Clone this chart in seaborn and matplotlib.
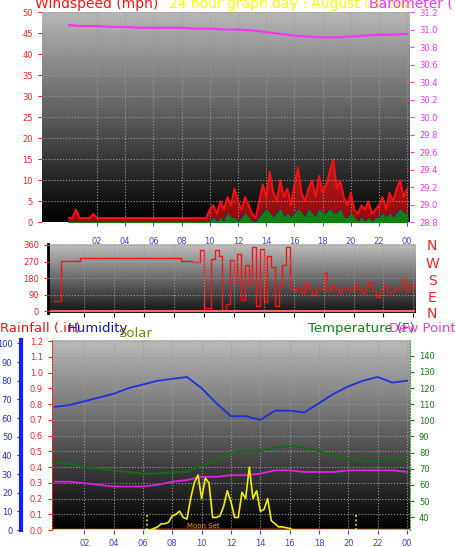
import matplotlib

matplotlib.use("Agg")

import matplotlib.pyplot as plt
import numpy as np
import pandas as pd
import seaborn as sns

# ---- data ----
HOUR_TICKS = [2, 4, 6, 8, 10, 12, 14, 16, 18, 20, 22, 24]
HOUR_LABELS = ["02", "04", "06", "08", "10", "12", "14", "16", "18", "20", "22", "00"]

# 15-minute samples
wind_gust = [1, 1, 3, 1, 1, 1, 1, 2, 1, 1, 1, 1, 1, 1, 1, 1, 1, 1, 1, 1,
             1, 1, 1, 1, 1, 1, 1, 1, 1, 1, 1, 1, 1, 1, 1, 1, 1, 1, 1, 1,
             3, 4, 2, 5, 3, 6, 4, 8, 5, 3, 6, 4, 2, 1, 5, 9, 6, 12, 7, 5,
             10, 6, 8, 4, 9, 13, 7, 5, 8, 10, 6, 11, 7, 9, 12, 15, 8, 10, 6, 4,
             7, 3, 2, 4, 3, 5, 2, 3, 4, 6, 3, 7, 5, 8, 10, 6, 8]
wind_avg = [0] * 40 + [0, 1, 0, 1, 0, 2, 1, 1, 0, 1, 2, 1, 0, 0, 1, 2, 3, 2, 1, 2,
                       3, 1, 2, 1, 2, 3, 2, 1, 3, 2, 1, 3, 2, 2, 3, 2, 2, 3, 1, 1,
                       2, 1, 0, 1, 0, 1, 0, 1, 1, 2, 1, 2, 1, 2, 3, 2, 2]
wind_dir = [55, 55, 275, 275, 275, 275, 275, 290, 290, 290, 290, 290, 290, 290, 290, 290,
            290, 290, 290, 290, 290, 290, 290, 290, 290, 290, 290, 290, 290, 290, 290, 290,
            290, 290, 275, 275, 275, 270, 270, 330, 20, 20, 285, 330, 300, 10, 40, 280,
            160, 310, 60, 250, 150, 350, 30, 340, 50, 300, 240, 30, 140, 250, 350, 120,
            110, 130, 100, 150, 120, 90, 130, 120, 210, 110, 140, 120, 100, 130, 120, 110,
            150, 120, 100, 130, 160, 110, 80, 120, 140, 100, 110, 130, 120, 180, 110, 150, 120]
solar = [0] * 27 + [10, 20, 40, 40, 50, 90, 100, 120, 80, 70, 200, 300, 350, 200, 330, 300,
                    80, 80, 90, 150, 250, 180, 80, 80, 240, 200, 400, 200, 250, 120, 130, 200,
                    60, 40, 20, 20, 15, 10, 0, 0, 0, 0, 0, 0, 0, 0, 0, 0, 0, 0, 0, 0, 0, 0, 0, 0]

# hourly samples
barometer = [31.05, 31.04, 31.04, 31.03, 31.03, 31.02, 31.02, 31.02, 31.02, 31.01, 31.01,
             31.0, 31.0, 30.99, 30.97, 30.95, 30.93, 30.92, 30.91, 30.91, 30.92, 30.93,
             30.94, 30.94, 30.95]
temperature = [74, 73, 71, 70, 69, 68, 67, 67, 68, 68, 72, 75, 80, 81, 81, 83, 84, 83,
               81, 78, 76, 75, 75, 76, 75]
dew_point = [62, 62, 61, 60, 59, 59, 59, 60, 62, 63, 65, 65, 66, 66, 67, 69, 69, 68,
             68, 68, 69, 69, 69, 69, 68]
humidity = [66, 67, 69, 71, 73, 76, 78, 80, 81, 82, 76, 68, 61, 61, 59, 64, 64, 63,
            68, 73, 77, 80, 82, 79, 80]


def series(values, step):
    return pd.DataFrame({"t": np.arange(len(values)) * step, "v": values})


def gradient_bg(ax, top, bottom):
    grad = np.linspace(top, bottom, 256).reshape(-1, 1)
    ax.imshow(grad, extent=(0, 1, 0, 1), transform=ax.transAxes, aspect="auto",
              cmap="gray", vmin=0, vmax=1, zorder=0)
    ax.grid(True, color="#9a9a9a", linestyle=":", linewidth=0.8)
    ax.set_axisbelow(False)


def style_ax(ax):
    for s in ax.spines.values():
        s.set_visible(False)
    ax.tick_params(labelsize=6, length=3)
    ax.set_xlabel("")
    ax.set_ylabel("")


fig = plt.figure(figsize=(4.56, 5.47), dpi=100)
gust = series(wind_gust, 0.25)
avg = series(wind_avg, 0.25)
wdir = series(wind_dir, 0.25)
sol = series(solar, 0.25)

# ---- top panel ----
ax1 = fig.add_axes([0.092, 0.594, 0.807, 0.384])
gradient_bg(ax1, 0.72, 0.0)
sns.lineplot(data=gust, x="t", y="v", ax=ax1, color="#ff1010", lw=1.2, zorder=3)
ax1.fill_between(gust["t"], gust["v"], color="#ff1010", alpha=0.6, zorder=2)
sns.lineplot(data=avg, x="t", y="v", ax=ax1, color="#1010d0", lw=1, zorder=3)
ax1.fill_between(avg["t"], avg["v"], color="#108010", zorder=4)
ax1.set_xlim(-1.9, 24.2)
ax1.set_ylim(0, 50)
ax1.set_yticks(range(0, 51, 5))
ax1.tick_params(axis="y", colors="#ff2020")
ax1.set_xticks(HOUR_TICKS, HOUR_LABELS)
ax1.tick_params(axis="x", colors="#4040ff", pad=8)
style_ax(ax1)
ax1b = ax1.twinx()
sns.lineplot(data=series(barometer, 1), x="t", y="v", ax=ax1b, color="#ff30ff", lw=1.5)
ax1b.set_ylim(28.8, 31.2)
ax1b.set_yticks(np.round(np.arange(28.8, 31.21, 0.2), 1))
ax1b.tick_params(axis="y", colors="#ff30ff")
style_ax(ax1b)

# ---- middle panel ----
ax2 = fig.add_axes([0.105, 0.428, 0.805, 0.126])
gradient_bg(ax2, 0.75, 0.08)
sns.lineplot(data=wdir, x="t", y="v", ax=ax2, color="#ff1010", lw=1, drawstyle="steps-post")
ax2.axhline(0, color="#ff6060", lw=1.5)
ax2.set_xlim(-0.4, 24.1)
ax2.set_ylim(-8, 365)
ax2.set_yticks([0, 90, 180, 270, 360])
ax2.set_xticks(HOUR_TICKS, [])
ax2.tick_params(axis="y", colors="#ff2020")
style_ax(ax2)
ax2.spines["left"].set_visible(True)
ax2.spines["left"].set_color("black")
ax2.spines["left"].set_linewidth(2)
for y, letter in zip([0.55, 0.518, 0.487, 0.456, 0.426], "NWSEN"):
    fig.text(0.948, y, letter, color="#ff2020", fontsize=10, ha="center", va="center")

# ---- bottom panel ----
ax3 = fig.add_axes([0.114, 0.031, 0.785, 0.348])
gradient_bg(ax3, 0.73, 0.0)
ax3.set_xlim(-0.2, 24.2)
ax3.set_ylim(0, 1.21)
ax3.set_yticks(np.round(np.arange(0, 1.21, 0.1), 1))
ax3.tick_params(axis="y", colors="#ff2020")
ax3.set_xticks(HOUR_TICKS, HOUR_LABELS)
ax3.tick_params(axis="x", colors="#4040ff")
style_ax(ax3)
ax3.spines["left"].set_visible(True)
ax3.spines["left"].set_color("#ff2020")
ax3.spines["left"].set_linestyle(":")
ax3.axhline(0.003, color="#ff9900", lw=2.5, zorder=5)
ax3.axhline(0.003, xmin=0.3, xmax=0.75, color="#ff1010", lw=2.5, zorder=5)
for xv in [6.3, 20.5]:
    ax3.plot([xv, xv], [0, 0.1], color="#ffff00", ls=":", lw=1.2, zorder=5)
ax3.text(9.0, 0.005, "Moon Set", color="#ff9900", fontsize=5, va="bottom", zorder=6)

ax3t = ax3.twinx()
sns.lineplot(data=series(temperature, 1), x="t", y="v", ax=ax3t, color="#107010", lw=1.3)
sns.lineplot(data=series(dew_point, 1), x="t", y="v", ax=ax3t, color="#e020e0", lw=1.3)
ax3t.set_ylim(32, 150)
ax3t.set_yticks(range(40, 141, 10))
ax3t.tick_params(axis="y", colors="#108010")
style_ax(ax3t)
ax3t.spines["right"].set_visible(True)
ax3t.spines["right"].set_color("#30a030")
ax3t.spines["right"].set_linestyle(":")

ax3h = ax3.twinx()
sns.lineplot(data=series(humidity, 1), x="t", y="v", ax=ax3h, color="#2030e0", lw=1.3)
ax3h.set_ylim(0, 102)
ax3h.yaxis.set_ticks_position("left")
ax3h.spines["left"].set_position(("outward", 22))
ax3h.set_yticks(range(0, 101, 10))
ax3h.tick_params(axis="y", colors="#2030e0")
style_ax(ax3h)
ax3h.spines["left"].set_visible(True)
ax3h.spines["left"].set_color("#1020ff")
ax3h.spines["left"].set_linewidth(3)

ax3s = ax3.twinx()
sns.lineplot(data=sol, x="t", y="v", ax=ax3s, color="#f0f000", lw=1.2)
ax3s.set_ylim(0, 1210)
ax3s.set_yticks([])
style_ax(ax3s)

# ---- header texts ----
fig.text(0.076, 0.993, "Windspeed (mph)", color="#ff1010", fontsize=10, va="center")
fig.text(0.37, 0.993, "24 hour graph day : August 01 202", color="#ffff00", fontsize=10, va="center")
fig.text(0.81, 0.993, "Barometer ( in)", color="#ff30ff", fontsize=10, va="center")
fig.text(0.0, 0.4, "Rainfall (.in)", color="#ff1010", fontsize=9.5, va="center")
fig.text(0.148, 0.4, "Humidity", color="#1010e0", fontsize=9.5, va="center")
fig.text(0.258, 0.39, "Solar", color="#808000", fontsize=9.5, va="center")
fig.text(0.675, 0.4, "Temperature (F)", color="#108010", fontsize=9.5, va="center")
fig.text(0.852, 0.4, "Dew Point (", color="#ff30ff", fontsize=9.5, va="center")

fig.savefig("out.png", dpi=100)
